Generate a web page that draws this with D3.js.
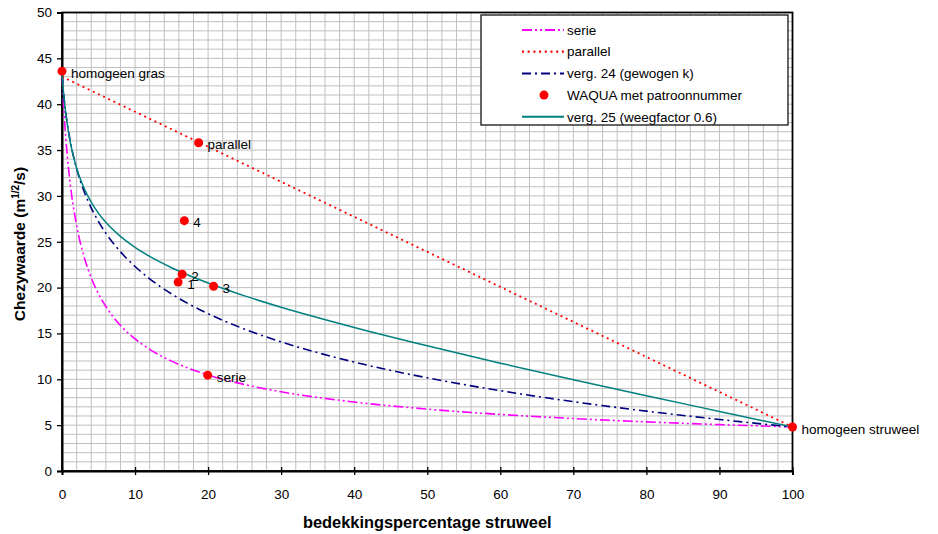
<!DOCTYPE html>
<html>
<head>
<meta charset="utf-8">
<script src="https://cdn.jsdelivr.net/npm/d3@7"></script>
<style>
  html, body { margin: 0; padding: 0; background: #fff; }
  svg { display: block; font-family: "Liberation Sans", Arial, sans-serif; }
</style>
</head>
<body>
<svg id="chart" width="938" height="534"></svg>
<script>
// Covering percentage of shrubs (x) and the curves per combination method
const pct      = [0, 0.25, 0.5, 1, 2, 3, 4, 5, 6, 8, 10, 12, 15, 20, 25, 30, 40, 50, 60, 70, 80, 90, 100];
const serie    = [43.2, 39.44, 36.51, 32.20, 26.79, 23.43, 21.08, 19.32, 17.94, 15.88, 14.40, 13.27, 11.98, 10.48, 9.43, 8.64, 7.52, 6.75, 6.17, 5.72, 5.36, 5.06, 4.80];
const verg24   = [43.2, 40.93, 39.17, 36.52, 32.97, 30.54, 28.69, 27.20, 25.94, 23.91, 22.30, 20.96, 19.31, 17.15, 15.47, 14.08, 11.88, 10.16, 8.76, 7.56, 6.53, 5.62, 4.80];
const verg25   = [43.2, 40.90, 39.11, 36.45, 33.04, 30.88, 29.31, 28.10, 27.12, 25.58, 24.38, 23.40, 22.17, 20.50, 19.10, 17.85, 15.65, 13.65, 11.76, 9.96, 8.21, 6.50, 4.80];
const parallelPct = [0, 100];
const parallel    = [43.0, 4.8];

// WAQUA results with pattern number
const waquaLabels = ["homogeen gras", "parallel", "4", "2", "1", "3", "serie", "homogeen struweel"];
const waquaX      = [0, 18.7, 16.75, 16.45, 15.9, 20.75, 19.95, 100];
const waquaY      = [43.6, 35.8, 27.3, 21.45, 20.6, 20.15, 10.45, 4.8];

const xTicks = [0, 10, 20, 30, 40, 50, 60, 70, 80, 90, 100];
const yTicks = [0, 5, 10, 15, 20, 25, 30, 35, 40, 45, 50];

const legendItems = [
  { label: "serie", kind: "serie" },
  { label: "parallel", kind: "parallel" },
  { label: "verg. 24 (gewogen k)", kind: "verg24" },
  { label: "WAQUA met patroonnummer", kind: "waqua" },
  { label: "verg. 25 (weegfactor 0.6)", kind: "verg25" }
];

const styles = {
  serie:    { color: "#ff00ff", dash: "10,3,2,3,2,3", width: 1.6 },
  parallel: { color: "#ff0000", dash: "2,3.7", width: 1.8 },
  verg24:   { color: "#000080", dash: "9,4,2,4", width: 1.6 },
  verg25:   { color: "#008080", dash: null, width: 1.5 }
};

const margin = { left: 62, right: 145.5, top: 12.5, bottom: 63 };
const W = 938, H = 534;
const svg = d3.select("#chart");

const x = d3.scaleLinear().domain([0, 100]).range([margin.left, W - margin.right]);
const y = d3.scaleLinear().domain([0, 50]).range([H - margin.bottom, margin.top]);

// grid: every 2 % horizontally, every 1 unit vertically
const grid = svg.append("g").attr("stroke", "#c0c0c0").attr("stroke-width", 1);
d3.range(2, 100, 2).forEach(v => {
  grid.append("line").attr("x1", x(v)).attr("x2", x(v)).attr("y1", y(0)).attr("y2", y(50));
});
d3.range(1, 50, 1).forEach(v => {
  grid.append("line").attr("x1", x(0)).attr("x2", x(100)).attr("y1", y(v)).attr("y2", y(v));
});

// frame
svg.append("rect")
  .attr("x", x(0)).attr("y", y(50))
  .attr("width", x(100) - x(0)).attr("height", y(0) - y(50))
  .attr("fill", "none").attr("stroke", "#000").attr("stroke-width", 1.8);

// axes with crossing ticks
const xAxis = d3.axisBottom(x).tickValues(xTicks).tickSize(4).tickPadding(14);
const yAxis = d3.axisLeft(y).tickValues(yTicks).tickSize(5).tickPadding(5);

const gx = svg.append("g").attr("transform", `translate(0,${y(0)})`).call(xAxis);
gx.select(".domain").attr("stroke", "#000").attr("stroke-width", 2);
gx.selectAll(".tick line").attr("y1", -4).attr("stroke", "#000").attr("stroke-width", 1.3);
gx.selectAll(".tick text").attr("font-size", 13.5).attr("fill", "#000")
  .attr("font-family", "Liberation Sans, Arial, sans-serif");

const gy = svg.append("g").attr("transform", `translate(${x(0)},0)`).call(yAxis);
gy.select(".domain").attr("stroke", "#000").attr("stroke-width", 2);
gy.selectAll(".tick line").attr("stroke", "#000").attr("stroke-width", 1.3);
gy.selectAll(".tick text").attr("font-size", 13.5).attr("fill", "#000")
  .attr("font-family", "Liberation Sans, Arial, sans-serif");

// curves
const line = d3.line().x(d => x(d[0])).y(d => y(d[1])).curve(d3.curveMonotoneX);
function drawSeries(xs, ys, st) {
  svg.append("path")
    .datum(xs.map((v, i) => [v, ys[i]]))
    .attr("d", line)
    .attr("fill", "none")
    .attr("stroke", st.color)
    .attr("stroke-width", st.width)
    .attr("stroke-dasharray", st.dash);
}
drawSeries(parallelPct, parallel, styles.parallel);
drawSeries(pct, serie, styles.serie);
drawSeries(pct, verg24, styles.verg24);
drawSeries(pct, verg25, styles.verg25);

// WAQUA points and their labels
const pts = svg.append("g");
waquaLabels.forEach((lab, i) => {
  pts.append("circle")
    .attr("cx", x(waquaX[i])).attr("cy", y(waquaY[i])).attr("r", 4.5)
    .attr("fill", "#ff0000");
});
waquaLabels.forEach((lab, i) => {
  pts.append("text")
    .attr("x", x(waquaX[i]) + 9).attr("y", y(waquaY[i]) + 2)
    .attr("dy", "0.35em")
    .attr("font-size", 13.5).attr("fill", "#000")
    .text(lab);
});

// legend
const lg = svg.append("g");
lg.append("rect")
  .attr("x", 481).attr("y", 15).attr("width", 307).attr("height", 110)
  .attr("fill", "#fff").attr("stroke", "#000").attr("stroke-width", 1.2);
legendItems.forEach((it, i) => {
  const cy = 30 + i * 21.7;
  if (it.kind === "waqua") {
    lg.append("circle").attr("cx", 544).attr("cy", cy).attr("r", 4.5).attr("fill", "#ff0000");
  } else {
    const st = styles[it.kind];
    lg.append("line")
      .attr("x1", 522).attr("x2", 564).attr("y1", cy).attr("y2", cy)
      .attr("stroke", st.color).attr("stroke-width", st.width + 0.4)
      .attr("stroke-dasharray", st.dash);
  }
  lg.append("text")
    .attr("x", 567).attr("y", cy).attr("dy", "0.35em")
    .attr("font-size", 13.5).attr("fill", "#000")
    .text(it.label);
});

// axis titles
svg.append("text")
  .attr("x", (x(0) + x(100)) / 2).attr("y", 528)
  .attr("text-anchor", "middle")
  .attr("font-size", 16.4).attr("font-weight", "bold")
  .text("bedekkingspercentage struweel");

const yt = svg.append("text")
  .attr("transform", `translate(25,${244}) rotate(-90)`)
  .attr("text-anchor", "middle")
  .attr("font-size", 15.5).attr("font-weight", "bold");
yt.append("tspan").text("Chezywaarde (m");
yt.append("tspan").attr("font-size", 10).attr("dy", -6).text("1/2");
yt.append("tspan").attr("dy", 6).text("/s)");
</script>
</body>
</html>
